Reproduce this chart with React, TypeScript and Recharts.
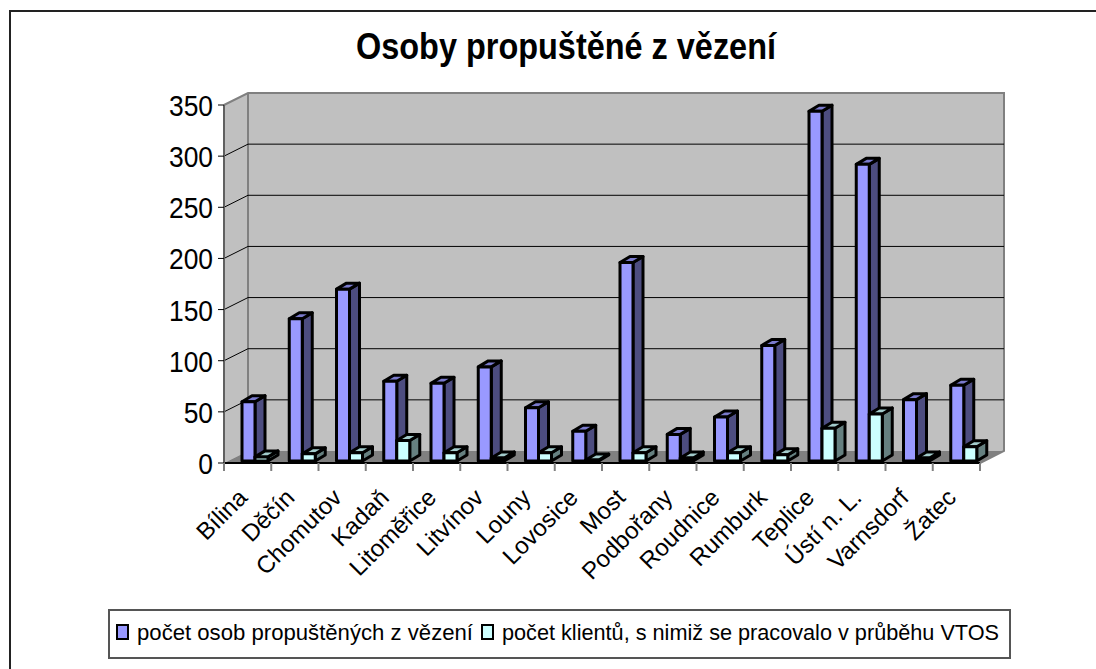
import React from 'react';
import { BarChart, Bar, XAxis, YAxis, CartesianGrid, Legend } from 'recharts';

const categories = ['Bílina', 'Děčín', 'Chomutov', 'Kadaň', 'Litoměřice', 'Litvínov', 'Louny', 'Lovosice', 'Most', 'Podbořany', 'Roudnice', 'Rumburk', 'Teplice', 'Ústí n. L.', 'Varnsdorf', 'Žatec'];
const released = [58, 139, 168, 78, 76, 92, 52, 29, 194, 26, 43, 113, 342, 290, 60, 74];
const clients = [4, 7, 8, 20, 8, 3, 8, 1, 8, 3, 8, 6, 32, 46, 3, 14];
const yTicks = [0, 50, 100, 150, 200, 250, 300, 350];

const data = categories.map((name, i) => ({ name, released: released[i], clients: clients[i] }));

// plot frame in page pixels
const LEFT = 224;
const RIGHT = 980;
const TOP = 105;
const BOTTOM = 463;
const DX = 24; // depth of the box
const DY = 12;
const STEP = (RIGHT - LEFT) / categories.length;
const FONT = 'Liberation Sans';

// sits behind the chart, recharts paints the grid below its customized layer
const Walls = () => (
  <svg width={1096} height={669} style={{ position: 'absolute', left: 0, top: 0 }}>
    <polygon points={`${LEFT},${TOP} ${LEFT + DX},${TOP - DY} ${RIGHT + DX},${TOP - DY} ${RIGHT + DX},${BOTTOM - DY} ${LEFT + DX},${BOTTOM - DY} ${LEFT},${BOTTOM}`} fill="#c0c0c0" />
    <polygon points={`${LEFT},${BOTTOM} ${LEFT + DX},${BOTTOM - DY} ${RIGHT + DX},${BOTTOM - DY} ${RIGHT},${BOTTOM}`} fill="#808080" />
    <polyline points={`${LEFT},${TOP} ${LEFT + DX},${TOP - DY} ${RIGHT + DX},${TOP - DY} ${RIGHT + DX},${BOTTOM - DY} ${RIGHT},${BOTTOM}`} fill="none" stroke="#808080" strokeWidth={2} />
    <line x1={LEFT + DX} y1={TOP - DY} x2={LEFT + DX} y2={BOTTOM - DY} stroke="#808080" strokeWidth={2} />
    <text x={566} y={59} textAnchor="middle" fontFamily={FONT} fontWeight="bold" fontSize={37} textLength={420} lengthAdjust="spacingAndGlyphs" fill="#000">
      Osoby propuštěné z vězení
    </text>
  </svg>
);

const gridLine = (props: any) => {
  const { x1, x2, y1, key } = props;
  if (y1 <= TOP + 1 || y1 >= BOTTOM - 1) return <g key={key} />;
  return (
    <polyline key={key} points={`${x1},${y1} ${x1 + DX},${y1 - DY} ${x2 + DX},${y1 - DY}`} fill="none" stroke="#000" strokeWidth={1} />
  );
};

// category ticks sit between the columns, labels are turned 45 degrees
const XTick = ({ x, payload, index }: any) => (
  <g>
    {index === 0 && <line x1={x - STEP / 2} x2={x - STEP / 2} y1={BOTTOM} y2={BOTTOM + 8} stroke="#808080" strokeWidth={2} />}
    <line x1={x + STEP / 2} x2={x + STEP / 2} y1={BOTTOM} y2={BOTTOM + 8} stroke="#808080" strokeWidth={2} />
    <text transform={`translate(${x + 1},${BOTTOM + 36}) rotate(-45)`} textAnchor="end" fontFamily={FONT} fontSize={24} fill="#000">
      {payload.value}
    </text>
  </g>
);

const YTick = ({ y, payload }: any) => (
  <text transform={`translate(213,${y + 11}) scale(0.88,1)`} textAnchor="end" fontFamily={FONT} fontSize={30} fill="#000">
    {payload.value}
  </text>
);

// 3D column: front, top and side faces
const Column = (props: any) => {
  const { x, y, width, height, fill, top, side } = props;
  const ox = 7;
  const oy = -2;
  const d = 10;
  const e = 6;
  const l = x + ox;
  const r = l + width;
  const t = y + oy;
  const b = t + height;
  return (
    <g stroke="#000" strokeWidth={3} strokeLinejoin="round">
      <polygon points={`${r},${t} ${r + d},${t - e} ${r + d},${b - e} ${r},${b}`} fill={side} />
      <polygon points={`${l},${t} ${l + d},${t - e} ${r + d},${t - e} ${r},${t}`} fill={top} />
      <rect x={l} y={t} width={width} height={height} fill={fill} />
    </g>
  );
};

const legendLayout = [
  { box: 7, text: 27, length: 336 },
  { box: 372, text: 392, length: 497 },
];

const LegendBox = ({ payload }: any) => (
  <svg width={899} height={46} style={{ display: 'block' }}>
    {(payload || []).map((p: any, i: number) => (
      <g key={p.value}>
        <rect x={legendLayout[i].box} y={14} width={11} height={14} fill={p.color} stroke="#000" strokeWidth={2} />
        <text x={legendLayout[i].text} y={29} fontFamily={FONT} fontSize={22} textLength={legendLayout[i].length} lengthAdjust="spacingAndGlyphs" fill="#000">
          {p.value}
        </text>
      </g>
    ))}
  </svg>
);

export default function App() {
  return (
    <div style={{ position: 'absolute', left: 0, top: 0, width: 1096, height: 669, background: '#fff', overflow: 'hidden' }}>
      <div style={{ position: 'absolute', left: 9, top: 10, width: 1200, height: 800, border: '2px solid #222' }} />
      <Walls />
      <div style={{ position: 'absolute', left: 0, top: 0 }}>
        <BarChart
          width={1096}
          height={669}
          data={data}
          margin={{ left: 0, right: 1096 - RIGHT, top: TOP, bottom: 0 }}
          barGap={0}
          barSize={13}
        >
          <CartesianGrid vertical={false} horizontal={gridLine} />
          <XAxis
            dataKey="name"
            interval={0}
            height={669 - BOTTOM}
            tick={<XTick />}
            tickLine={false}
            axisLine={{ stroke: '#000', strokeWidth: 2 }}
          />
          <YAxis
            domain={[0, 350]}
            ticks={yTicks}
            width={LEFT}
            tick={<YTick />}
            tickSize={6}
            axisLine={{ stroke: '#606060', strokeWidth: 2 }}
            tickLine={{ stroke: '#000', strokeWidth: 1 }}
          />
          <Bar dataKey="released" name="počet osob propuštěných z vězení" fill="#9999ff" isAnimationActive={false} shape={(p: any) => <Column {...p} top="#7a7acc" side="#4d4d80" />} />
          <Bar dataKey="clients" name="počet klientů, s nimiž se pracovalo v průběhu VTOS" fill="#ccffff" isAnimationActive={false} shape={(p: any) => <Column {...p} top="#a3cccc" side="#668080" />} />
          <Legend
            content={<LegendBox />}
            verticalAlign="middle"
            itemSorter={null as any}
            wrapperStyle={{ position: 'absolute', left: 108, top: 609, width: 903, height: 50, bottom: 'auto', border: '2px solid #555', boxSizing: 'border-box', background: '#fff' }}
          />
        </BarChart>
      </div>
    </div>
  );
}
